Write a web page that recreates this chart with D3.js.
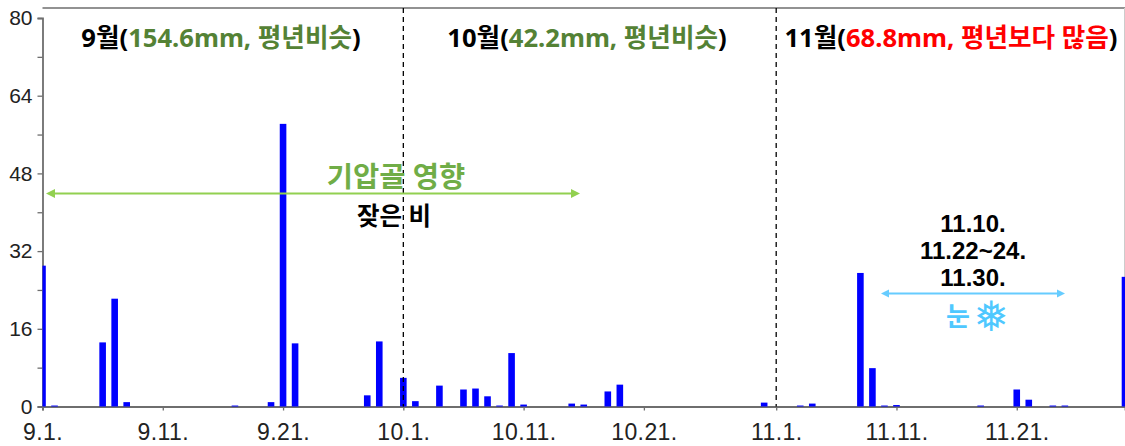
<!DOCTYPE html>
<html><head><meta charset="utf-8">
<script src="https://cdn.jsdelivr.net/npm/d3@7"></script>
<style>html,body{margin:0;padding:0;background:#fff}svg{display:block}
.kr{font-family:"Noto Sans","Noto Sans CJK KR",sans-serif;font-weight:700}
.tick text{font-family:"Liberation Sans",Arial,sans-serif;fill:#222}</style>
</head><body><svg id="c" width="1125" height="446"></svg>
<script>
const rainDates=["09-01","09-02","09-06","09-07","09-08","09-17","09-20","09-21","09-22","09-28","09-29","10-01","10-02","10-04","10-06","10-07","10-08","10-09","10-10","10-11","10-15","10-16","10-18","10-19","10-31","11-03","11-04","11-08","11-09","11-10","11-11","11-18","11-21","11-22","11-24","11-25","11-30"];
const rainValues=[29,0.2,13.2,22.2,0.9,0.2,0.9,58.2,13,2.3,13.4,5.9,1.1,4.3,3.5,3.7,2.1,0.2,11,0.4,0.6,0.4,3.1,4.5,0.8,0.2,0.6,27.5,7.9,0.2,0.3,0.2,3.5,1.4,0.2,0.2,26.7];
const xTickDates=["09-01","09-11","09-21","10-01","10-11","10-21","11-01","11-11","11-21"];
const xTickLabels=["9.1.","9.11.","9.21.","10.1.","10.11.","10.21.","11.1.","11.11.","11.21."];
const yTicks=[0,8,16,24,32,40,48,56,64,72,80];
const yLabels=[0,16,32,48,64,80];
const monthDividers=["10-01","11-01"];
const monthTitles=[
 {cx:221,parts:[["9월(","#000"],["154.6mm, 평년비슷","#548235"],[")","#000"]]},
 {cx:587,parts:[["10월(","#000"],["42.2mm, 평년비슷","#548235"],[")","#000"]]},
 {cx:951,parts:[["11월(","#000"],["68.8mm, 평년보다 많음","#ff0000"],[")","#000"]]}];
const snowDates=["11.10.","11.22~24.","11.30."];

const d=s=>new Date(Date.UTC(2023,+s.slice(0,2)-1,+s.slice(3)));
const L=42.5,R=1125,T=8,B=406.5;
const x=d3.scaleUtc().domain([d("09-01"),d("11-30")]).range([L,R]);
const y=d3.scaleLinear().domain([0,80]).range([B,18]);
const svg=d3.select("#c");
const axisCol="#6e6e6e";

// frame
svg.append("line").attr("x1",L).attr("x2",R).attr("y1",T).attr("y2",T).attr("stroke",axisCol).attr("stroke-width",1.6);
svg.append("line").attr("x1",1124.5).attr("x2",1124.5).attr("y1",T).attr("y2",B).attr("stroke","#ccc").attr("stroke-width",1);

// axes
const gx=svg.append("g").attr("transform",`translate(0,${B})`)
 .call(d3.axisBottom(x).tickValues(xTickDates.map(d)).tickFormat((t,i)=>xTickLabels[i]).tickSize(4).tickPadding(13));
gx.selectAll("text").attr("font-size",23).attr("letter-spacing",0.4);
const gy=svg.append("g").attr("transform",`translate(${L},0)`)
 .call(d3.axisLeft(y).tickValues(yTicks).tickFormat(v=>yLabels.includes(v)?v:"").tickSize(5).tickPadding(5));
gy.selectAll("text").attr("font-size",21);
[gx,gy].forEach(g=>{g.select(".domain").attr("stroke",axisCol).attr("stroke-width",1.8);
 g.selectAll(".tick line").attr("stroke",axisCol).attr("stroke-width",1.3);});

// bars
svg.append("g").selectAll("rect").data(rainValues).join("rect")
 .attr("x",(v,i)=>Math.max(L,x(d(rainDates[i]))-3.3))
 .attr("width",(v,i)=>{const c=x(d(rainDates[i]));return Math.min(R,c+3.3)-Math.max(L,c-3.3);})
 .attr("y",v=>y(v)).attr("height",v=>B-y(v)).attr("fill","#0000ff");

// month dividers
svg.append("g").selectAll("line").data(monthDividers).join("line")
 .attr("x1",m=>x(d(m))).attr("x2",m=>x(d(m))).attr("y1",T).attr("y2",B)
 .attr("stroke","#000").attr("stroke-width",1.3).attr("stroke-dasharray","5 4");

// month titles
monthTitles.forEach(t=>{
 const e=svg.append("text").attr("class","kr").attr("x",t.cx).attr("y",47).attr("text-anchor","middle").attr("font-size",25.6);
 t.parts.forEach(p=>e.append("tspan").attr("fill",p[1]).text(p[0]));
});

// arrows
function arrow(x1,x2,yy,col,w,hw,hl){
 svg.append("line").attr("x1",x1+hl-1).attr("x2",x2-hl+1).attr("y1",yy).attr("y2",yy).attr("stroke",col).attr("stroke-width",w);
 svg.append("path").attr("fill",col).attr("d",`M${x1},${yy}L${x1+hl},${yy-hw}L${x1+hl},${yy+hw}Z`);
 svg.append("path").attr("fill",col).attr("d",`M${x2},${yy}L${x2-hl},${yy-hw}L${x2-hl},${yy+hw}Z`);
}
arrow(46,580,193.5,"#92d050",2.2,4.5,9);
arrow(881,1065,293.5,"#66ccff",2.2,4,8);

const label=(s,cx,yy,size,col)=>svg.append("text").attr("class","kr").attr("x",cx).attr("y",yy).attr("text-anchor","middle").attr("font-size",size).attr("fill",col).text(s);
label("기압골 영향",396,187,28.5,"#70ad47");
label("잦은 비",394,225,24.5,"#000");
snowDates.forEach((s,i)=>label(s,973,232+i*27,24,"#000").style("font-family","'Liberation Sans',Arial,sans-serif"));
label("눈",958,326,26,"#4fc8ff");
svg.append("text").attr("x",991).attr("y",331).attr("text-anchor","middle").attr("font-size",42)
 .attr("font-family","DejaVu Sans").attr("fill","#4fc8ff").text("❅");
</script></body></html>
